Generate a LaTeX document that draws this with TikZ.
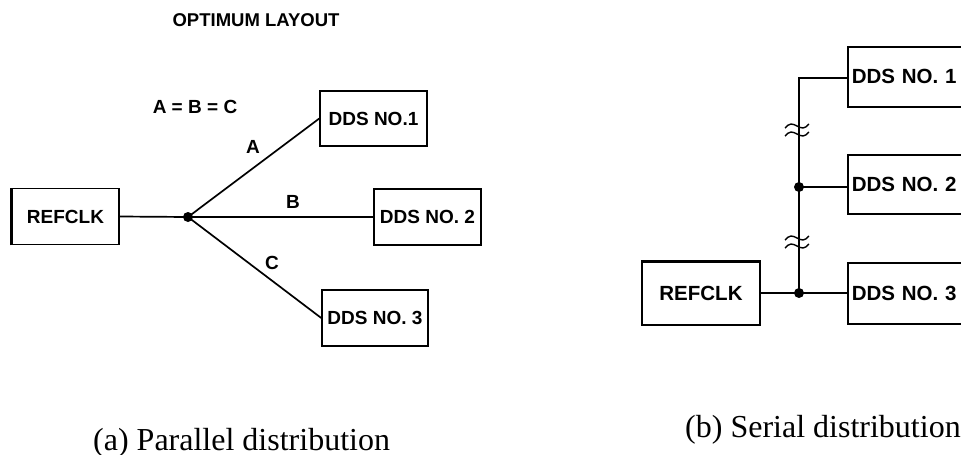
\documentclass[tikz,border=0pt]{standalone}
\usepackage{fontspec}
\setmainfont{Liberation Serif}
\newfontfamily\arialfam{Liberation Sans}
\newcommand\lblfont{\arialfam\bfseries\fontsize{19}{19}\selectfont}
\newcommand\rlblfont{\arialfam\bfseries\fontsize{20.5}{20.5}\selectfont}
\newcommand\capfont{\fontsize{32}{32}\selectfont}
\begin{document}
\begin{tikzpicture}[x=1pt,y=-1pt,
  box/.style={draw, line width=1.5pt, font=\lblfont, inner sep=0pt},
  rbox/.style={box, font=\rlblfont, anchor=north west, minimum width=130pt, text width=124pt, align=left},
  wire/.style={line width=1.7pt},
  jdot/.style={circle, fill, inner sep=0pt, minimum size=10pt},
  lab/.style={font=\lblfont, inner sep=0pt},
  captext/.style={font=\capfont, inner sep=0pt, anchor=base west}]
\useasboundingbox (0,0) rectangle (961,455);
\clip (0,0) rectangle (961,455);
% ---------- (a) parallel ----------
\node[lab, font=\arialfam\bfseries\fontsize{18.5}{18.5}\selectfont] (title) at (256,20) {OPTIMUM LAYOUT};
\node[lab] (eq) at (195,107) {A = B = C};
\node[box, minimum width=107pt, minimum height=56pt] (ref1) at (65.5,216.5) {REFCLK};
\draw[line width=3pt] (ref1.south west) -- (ref1.north west);
\node[box, minimum width=107pt, minimum height=55pt] (d1) at (373.5,118.5) {DDS NO.1};
\node[box, minimum width=107pt, minimum height=56pt] (d2) at (427.5,217) {DDS NO. 2};
\node[box, minimum width=106pt, minimum height=56pt] (d3) at (375,318) {DDS NO. 3};
\node[jdot] (J) at (188,217) {};
\draw[wire] (ref1.east) -- (J.center);
\draw[wire] (J.center) -- (d1.west);
\draw[wire] (J.center) -- (d2.west);
\draw[wire] (J.center) -- (d3.west);
\node[lab] (la) at (253,147) {A};
\node[lab] (lb) at (293,202) {B};
\node[lab] (lc) at (272,263) {C};
\node[captext] (capa) at (93,450) {(a) Parallel distribution};
% ---------- (b) serial ----------
\node[rbox, minimum height=60pt] (r1) at (847,46) {\hspace*{1pt}DDS NO. 1};
\node[rbox, minimum height=59pt] (r2) at (847,154) {\hspace*{1pt}DDS NO. 2};
\node[rbox, minimum height=61pt] (r3) at (847,262) {\hspace*{1pt}DDS NO. 3};
\node[box, font=\rlblfont, minimum width=118pt, minimum height=63pt] (ref2) at (701,293.5) {REFCLK};
\draw[line width=3pt] (ref2.north west) -- (ref2.north east);
\node[jdot] (K2) at (799,187) {};
\node[jdot] (K3) at (799,293) {};
\coordinate (K1) at (799,78);
\draw[wire] (K3.center) -- (K1) -- (K1 -| r1.west);
\draw[wire] (K2.center) -- (K2 -| r2.west);
\draw[wire] (ref2.east |- K3) -- (K3.center) -- (K3 -| r3.west);
\foreach \yy in {126,238}{
  \draw[line width=1.4pt] (785,\yy+2) sin (791,\yy-2) cos (797,\yy) sin (803,\yy+2) cos (809,\yy-2);
  \draw[line width=1.4pt] (785,\yy+10) sin (791,\yy+6) cos (797,\yy+8) sin (803,\yy+10) cos (809,\yy+6);
}
\node[captext] (capb) at (685,437) {(b) Serial distribution};
\end{tikzpicture}
\end{document}
